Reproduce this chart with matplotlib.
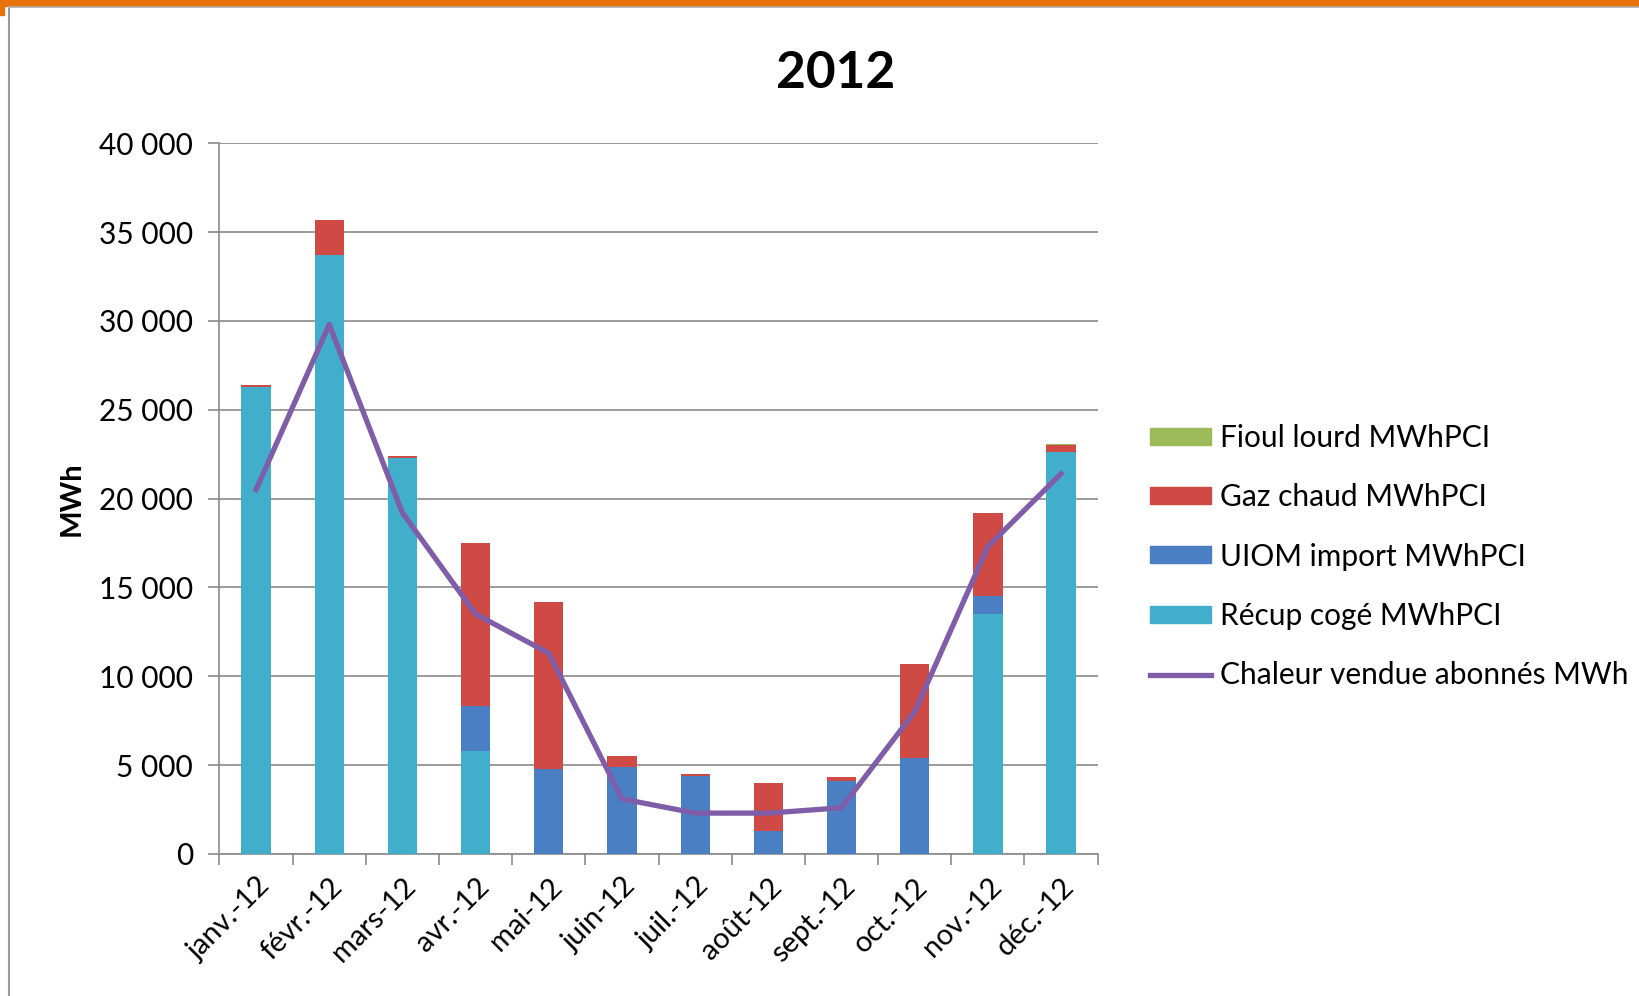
import numpy as np
import matplotlib
matplotlib.use('Agg')
import matplotlib.pyplot as plt
from matplotlib.ticker import FuncFormatter, FixedLocator
from matplotlib.patches import Rectangle
from matplotlib.lines import Line2D

plt.rcParams['font.family'] = ['Lato', 'DejaVu Sans']

months = ['janv.-12', 'févr.-12', 'mars-12', 'avr.-12', 'mai-12', 'juin-12',
          'juil.-12', 'août-12', 'sept.-12', 'oct.-12', 'nov.-12', 'déc.-12']
recup = [26300, 33700, 22300, 5800, 0, 0, 0, 0, 0, 0, 13500, 22600]
uiom = [0, 0, 0, 2500, 4800, 4900, 4400, 1300, 4100, 5400, 1000, 0]
gaz = [100, 2000, 100, 9200, 9400, 600, 100, 2700, 250, 5300, 4700, 400]
fioul = [0, 0, 0, 0, 0, 0, 0, 0, 0, 0, 0, 50]
chaleur = [20500, 29800, 19200, 13500, 11300, 3100, 2300, 2300, 2600, 8000, 17300, 21400]

c_recup = '#41AECB'
c_uiom = '#4A7FC4'
c_gaz = '#CF4A45'
c_fioul = '#9BBB59'
c_line = '#7F5DA8'
grey = '#8a8a8a'

fig = plt.figure(figsize=(16.39, 9.96), dpi=100)
ax = fig.add_axes([0.1339, 0.1426, 0.5358, 0.7136])

x = np.arange(len(months))
w = 0.4
b1 = np.array(recup)
b2 = b1 + np.array(uiom)
b3 = b2 + np.array(gaz)
ax.bar(x, recup, w, color=c_recup, zorder=3)
ax.bar(x, uiom, w, bottom=b1, color=c_uiom, zorder=3)
ax.bar(x, gaz, w, bottom=b2, color=c_gaz, zorder=3)
ax.bar(x, fioul, w, bottom=b3, color=c_fioul, zorder=3)
ax.plot(x, chaleur, color=c_line, lw=3.8, zorder=4, solid_joinstyle='round')

ax.set_xlim(-0.5, 11.5)
ax.set_ylim(0, 40000)
ax.set_yticks(np.arange(0, 40001, 5000))
ax.yaxis.set_major_formatter(FuncFormatter(lambda v, p: '{:,}'.format(int(v)).replace(',', ' ')))
ax.grid(axis='y', color=grey, lw=1.2, zorder=0)

ax.xaxis.set_major_locator(FixedLocator(np.arange(-0.5, 12, 1)))
ax.xaxis.set_minor_locator(FixedLocator(x))
ax.set_xticklabels([], minor=False)
ax.set_xticklabels(months, minor=True, rotation=45, ha='right',
                   rotation_mode='anchor', fontsize=21)
ax.tick_params(axis='x', which='minor', length=0, pad=14)
ax.tick_params(axis='x', which='major', length=8, color=grey, width=1.2)
ax.tick_params(axis='y', length=8, color=grey, width=1.2, labelsize=21.5, pad=11)

for s in ['top', 'right']:
    ax.spines[s].set_visible(False)
for s in ['left', 'bottom']:
    ax.spines[s].set_color(grey)
    ax.spines[s].set_linewidth(1.2)

ax.set_ylabel('MWh', fontsize=21, fontweight='bold', labelpad=10)
fig.text(0.51, 0.926, '2012', ha='center', va='center', fontsize=37, fontweight='bold')

handles = [Rectangle((0, 0), 1, 1, color=c_fioul),
           Rectangle((0, 0), 1, 1, color=c_gaz),
           Rectangle((0, 0), 1, 1, color=c_uiom),
           Rectangle((0, 0), 1, 1, color=c_recup),
           Line2D([], [], color=c_line, lw=3.8)]
labels = ['Fioul lourd MWhPCI', 'Gaz chaud MWhPCI', 'UIOM import MWhPCI',
          'Récup cogé MWhPCI', 'Chaleur vendue abonnés MWh']
fig.legend(handles, labels, loc='upper left', bbox_to_anchor=(0.7016, 0.5745),
           frameon=False, fontsize=21.5, handlelength=2.03, handleheight=0.5,
           handletextpad=0.31, labelspacing=1.05, borderaxespad=0, borderpad=0)

# frame decoration
fig.patches.append(Rectangle((0, 1 - 6 / 996), 1, 6 / 996, transform=fig.transFigure,
                             color='#E8730A', zorder=0))
fig.patches.append(Rectangle((0, 1 - 15 / 996), 4 / 1639, 15 / 996, transform=fig.transFigure,
                             color='#E8730A', zorder=0))
fig.lines.append(Line2D([9 / 1639, 9 / 1639], [0, 1 - 7 / 996], transform=fig.transFigure,
                        color='#9a9a9a', lw=1.5))
fig.lines.append(Line2D([9 / 1639, 1], [1 - 7 / 996, 1 - 7 / 996], transform=fig.transFigure,
                        color='#b0b0b0', lw=1.2))

fig.savefig('out.png', dpi=100)
